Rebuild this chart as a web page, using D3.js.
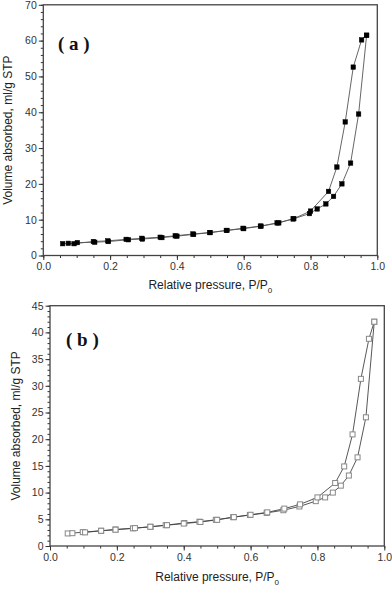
<!DOCTYPE html>
<html><head><meta charset="utf-8">
<script src="https://cdn.jsdelivr.net/npm/d3@7"></script>
<style>body{margin:0;background:#fff}svg{display:block}</style>
</head><body>
<script>
// Panel (a)
const aAdsP = [0.058,0.075,0.092,0.150,0.193,0.248,0.295,0.350,0.395,0.448,0.498,0.548,0.598,0.650,0.700,0.748,0.797,0.820,0.846,0.869,0.894,0.920,0.944,0.968];
const aAdsV = [3.3,3.4,3.3,3.9,4.1,4.5,4.8,5.1,5.5,6.0,6.4,7.0,7.6,8.2,9.1,10.2,11.7,13.0,14.4,16.5,20.0,25.8,39.5,61.5];
const aDesP = [0.968,0.953,0.928,0.904,0.879,0.854,0.800,0.750,0.705,0.652,0.600,0.550,0.500,0.450,0.400,0.355,0.297,0.255,0.195,0.154,0.102];
const aDesV = [61.5,60.2,52.6,37.3,24.7,17.9,12.4,10.3,9.1,8.2,7.5,7.0,6.4,5.9,5.4,5.0,4.6,4.4,3.9,3.7,3.6];
// Panel (b)
const bAdsP = [0.053,0.067,0.098,0.153,0.196,0.248,0.301,0.346,0.402,0.447,0.496,0.548,0.598,0.648,0.698,0.746,0.795,0.823,0.846,0.870,0.894,0.920,0.945,0.970];
const bAdsV = [2.35,2.4,2.6,2.85,3.1,3.3,3.6,3.9,4.3,4.55,4.9,5.4,5.8,6.2,6.7,7.4,8.4,9.1,10.0,11.3,13.2,16.6,24.1,42.0];
const bDesP = [0.970,0.954,0.930,0.905,0.880,0.853,0.800,0.748,0.701,0.650,0.600,0.550,0.500,0.450,0.400,0.350,0.300,0.254,0.196,0.153,0.105];
const bDesV = [42.0,38.8,31.3,20.9,14.9,11.8,9.1,7.8,7.0,6.3,5.85,5.4,4.9,4.5,4.2,3.9,3.6,3.35,3.05,2.85,2.55];

const xTicks = [0.0,0.2,0.4,0.6,0.8,1.0];
const aYTicks = [0,10,20,30,40,50,60,70];
const bYTicks = [0,5,10,15,20,25,30,35,40,45];

const svg = d3.select("body").append("svg").attr("width",392).attr("height",594);

function panel(cfg){
  const g = svg.append("g");
  const x = d3.scaleLinear().domain([0,1]).range([cfg.x0,cfg.x1]);
  const y = d3.scaleLinear().domain([0,cfg.ymax]).range([cfg.y0,cfg.y1]);
  const axisCol = "#333";
  const xa = g.append("g").attr("transform",`translate(0,${cfg.y0})`)
    .call(d3.axisBottom(x).tickValues(d3.range(0,1.0001,0.05)).tickSize(2.5).tickFormat(""));
  const xb = g.append("g").attr("transform",`translate(0,${cfg.y0})`)
    .call(d3.axisBottom(x).tickValues(xTicks).tickSize(4.5).tickPadding(3).tickFormat(d3.format(".1f")));
  const ya = g.append("g").attr("transform",`translate(${cfg.x0},0)`)
    .call(d3.axisLeft(y).tickValues(d3.range(0,cfg.ymax+0.001,cfg.minor)).tickSize(2.5).tickFormat(""));
  const yb = g.append("g").attr("transform",`translate(${cfg.x0},0)`)
    .call(d3.axisLeft(y).tickValues(cfg.yTicks).tickSize(4.5).tickPadding(2).tickFormat(d3.format("d")));
  [xa,xb,ya,yb].forEach(s=>{
    s.select(".domain").remove();
    s.selectAll("line").attr("stroke",axisCol).attr("stroke-width",1);
    s.selectAll("text").attr("fill","#333").style("font-family","Liberation Sans, Arial, sans-serif").style("font-size","10.5px");
  });
  g.append("rect").attr("x",cfg.x0).attr("y",cfg.y1).attr("width",cfg.x1-cfg.x0).attr("height",cfg.y0-cfg.y1)
    .attr("fill","none").attr("stroke","#444").attr("stroke-width",1.3);

  const line = d3.line().x(d=>x(d[0])).y(d=>y(d[1]));
  const ads = cfg.adsP.map((p,i)=>[p,cfg.adsV[i]]);
  const des = cfg.desP.map((p,i)=>[p,cfg.desV[i]]);
  [ads,des].forEach(data=>{
    g.append("path").datum(data).attr("d",line).attr("fill","none")
      .attr("stroke",cfg.lineCol).attr("stroke-width",0.9);
  });
  [ads,des].forEach(data=>{
    g.selectAll(null).data(data).enter().append("rect")
      .attr("x",d=>x(d[0])-cfg.ms/2).attr("y",d=>y(d[1])-cfg.ms/2)
      .attr("width",cfg.ms).attr("height",cfg.ms)
      .attr("fill",cfg.fill).attr("stroke",cfg.mstroke).attr("stroke-width",cfg.sw);
  });
  g.append("text").attr("x",cfg.lx).attr("y",cfg.ly)
    .style("font-family","Liberation Serif, Times New Roman, serif").style("font-weight","bold").style("font-size","19px")
    .attr("fill","#111").text(cfg.label);
  const xt = g.append("text").attr("x",(cfg.x0+cfg.x1)/2).attr("y",cfg.xty).attr("text-anchor","middle")
    .style("font-family","Liberation Sans, Arial, sans-serif").style("font-size","12px").attr("fill","#222");
  xt.append("tspan").text("Relative pressure, P/P");
  xt.append("tspan").attr("dy",4).style("font-size","8px").text("0");
  g.append("text").attr("transform",`translate(${cfg.ytx},${(cfg.y0+cfg.y1)/2}) rotate(-90)`)
    .attr("text-anchor","middle")
    .style("font-family","Liberation Sans, Arial, sans-serif").style("font-size","12px").attr("fill","#222")
    .text("Volume absorbed, ml/g STP");
}

panel({x0:43.3,x1:377.3,y0:255.5,y1:4.8,ymax:70,yTicks:aYTicks,minor:2,
  adsP:aAdsP,adsV:aAdsV,desP:aDesP,desV:aDesV,lineCol:"#555",fill:"#000",mstroke:"#000",sw:0.5,ms:4.5,
  label:"( a )",lx:58,ly:50,xty:289,ytx:12});
panel({x0:50,x1:384.3,y0:546,y1:305.7,ymax:45,yTicks:bYTicks,minor:1,
  adsP:bAdsP,adsV:bAdsV,desP:bDesP,desV:bDesV,lineCol:"#444",fill:"#fff",mstroke:"#888",sw:1,ms:5,
  label:"( b )",lx:66,ly:346,xty:581,ytx:20});
</script>
</body></html>
